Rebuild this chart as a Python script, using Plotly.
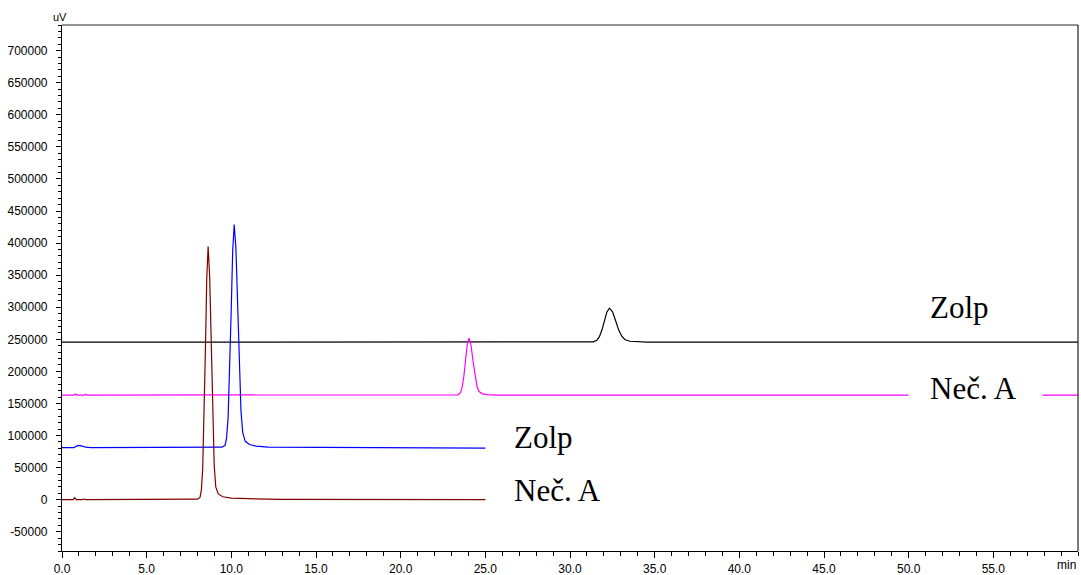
import plotly.graph_objects as go

# ---- data (retention time in min, signal in uV) ----
nec_a_low_t = [0, 0.65, 0.75, 0.85, 1.2, 1.3, 1.4, 7.5, 8.0, 8.15, 8.23, 8.31, 8.39, 8.47, 8.55, 8.63,
               8.72, 8.81, 8.90, 8.99, 9.08, 9.23, 9.5, 10.0, 11.0, 13.0, 25.0]
nec_a_low_v = [0, 0, 3000, 0, 0, 1000, 0, 0, 800, 3500, 15000, 49000, 122000, 235000, 346000, 394500,
               348000, 239000, 128000, 53000, 20000, 9000, 4500, 2500, 1500, 500, 0]

zolp_low_t = [0, 0.7, 0.85, 1.0, 1.2, 1.4, 1.7, 9.0, 9.45, 9.63, 9.72, 9.81, 9.90, 9.99, 10.08, 10.17,
              10.27, 10.37, 10.47, 10.57, 10.67, 10.82, 11.07, 11.47, 12.17, 25.0]
zolp_low_v = [81000, 81000, 83500, 84500, 83500, 81800, 81000, 81000, 81800, 84800, 96300, 128000, 194000,
              292000, 388000, 429000, 392000, 302000, 206000, 138000, 105000, 91000, 86000, 83500, 82000, 80500]

nec_a_high_t = [0, 0.7, 0.8, 0.9, 1.3, 1.4, 1.5, 22.0, 23.38, 23.53, 23.63, 23.73, 23.83, 23.93, 24.03,
                24.15, 24.27, 24.39, 24.51, 24.63, 24.83, 25.13, 25.63, 50.0, None, 57.9, 60.0]
nec_a_high_v = [163000, 163000, 164500, 163000, 163000, 164000, 163000, 163000, 163500, 166900, 175000,
                192000, 217000, 241500, 252000, 241500, 217000, 192000, 176000, 168500, 165000, 163800,
                163000, 163000, None, 163000, 163000]

zolp_high_t = [0, 0.8, 1.0, 1.2, 30.0, 31.38, 31.58, 31.73, 31.88, 32.03, 32.18, 32.33, 32.51, 32.69,
               32.87, 33.05, 33.23, 33.53, 33.93, 34.53, 60.0]
zolp_high_v = [245500, 245500, 246300, 245500, 245500, 246000, 248400, 253700, 264000, 278700, 292700,
               298500, 292900, 279300, 264800, 255300, 249700, 247000, 246000, 245500, 245500]

x_tick_vals = [0, 5, 10, 15, 20, 25, 30, 35, 40, 45, 50, 55]
x_tick_text = ["0.0", "5.0", "10.0", "15.0", "20.0", "25.0", "30.0", "35.0", "40.0", "45.0", "50.0", "55.0"]
y_tick_vals = [-50000, 0, 50000, 100000, 150000, 200000, 250000, 300000, 350000, 400000, 450000,
               500000, 550000, 600000, 650000, 700000]
y_tick_text = [str(v) for v in y_tick_vals]

labels = [
    ("Zolp", 51.15, 299000),
    ("Neč. A", 51.15, 174000),
    ("Zolp", 26.6, 96300),
    ("Neč. A", 26.6, 14800),
]

fig = go.Figure()
series = [
    (zolp_high_t, zolp_high_v, "#000000"),
    (nec_a_high_t, nec_a_high_v, "#FF00FF"),
    (zolp_low_t, zolp_low_v, "#0000FF"),
    (nec_a_low_t, nec_a_low_v, "#800000"),
]
for t, v, c in series:
    fig.add_trace(go.Scatter(x=t, y=v, mode="lines", line=dict(color=c, width=1.2),
                             connectgaps=False, showlegend=False, hoverinfo="skip"))

for txt, x, y in labels:
    fig.add_annotation(x=x, y=y, text=txt, showarrow=False, xanchor="left", yanchor="middle",
                       font=dict(family="Liberation Serif, Times New Roman, serif", size=31, color="black"))

fig.add_annotation(x=60, y=0, xref="x", yref="paper", text="min", showarrow=False,
                   xanchor="right", yanchor="top", yshift=-5,
                   font=dict(family="Liberation Sans, Arial, sans-serif", size=12, color="black"))
fig.add_annotation(x=0, y=1, xref="paper", yref="paper", text="uV", showarrow=False,
                   xanchor="center", yanchor="bottom", yshift=0, xshift=-2,
                   font=dict(family="Liberation Sans, Arial, sans-serif", size=11, color="black"))

# gray frame top/right
fig.add_shape(type="line", xref="paper", yref="paper", x0=0, x1=1, y0=1, y1=1,
              line=dict(color="#707070", width=1.5))
fig.add_shape(type="line", xref="paper", yref="paper", x0=1, x1=1, y0=0, y1=1,
              line=dict(color="#202020", width=1.2))

fig.update_layout(
    width=1081, height=575,
    margin=dict(l=62, r=3, t=25, b=24, autoexpand=False),
    plot_bgcolor="white", paper_bgcolor="white",
    font=dict(family="Liberation Sans, Arial, sans-serif", size=12, color="black"),
    xaxis=dict(range=[0, 60], tickvals=x_tick_vals, ticktext=x_tick_text, ticks="outside",
               ticklen=6, tickcolor="black", showgrid=False, zeroline=False, showline=True,
               linecolor="black", linewidth=1.2, automargin=False, ticklabelstandoff=0,
               minor=dict(dtick=1, ticks="outside", ticklen=4, tickcolor="black", showgrid=False),
               tickfont=dict(size=12)),
    yaxis=dict(range=[-80000, 740000], tickvals=y_tick_vals, ticktext=y_tick_text, ticks="outside",
               ticklen=5, tickcolor="black", showgrid=False, zeroline=False, showline=True,
               linecolor="black", linewidth=1.2, ticklabelstandoff=6, automargin=False,
               minor=dict(dtick=10000, tick0=0, ticks="outside", ticklen=3, tickcolor="black",
                          showgrid=False),
               tickfont=dict(size=12)),
)

fig.write_html("out.html", config={"displayModeBar": False},
               post_script="document.body.style.margin='0';document.body.style.overflow='hidden';")
